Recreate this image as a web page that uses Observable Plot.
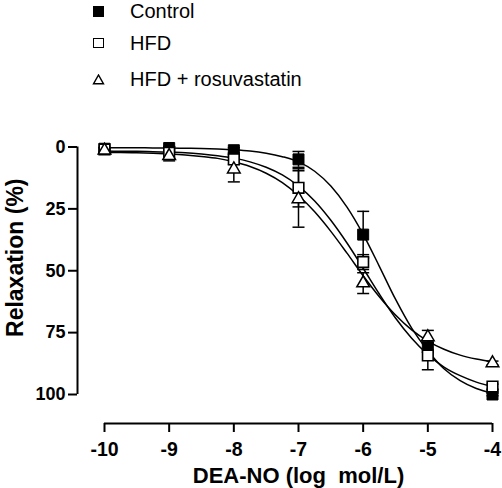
<!DOCTYPE html>
<html>
<head>
<meta charset="utf-8">
<script src="https://cdn.jsdelivr.net/npm/d3@7"></script>
<script src="https://cdn.jsdelivr.net/npm/@observablehq/plot@0.6"></script>
<style>
  html, body { margin: 0; padding: 0; background: #fff; }
  #wrap { width: 502px; height: 488px; position: relative; font-family: "Liberation Sans", Arial, sans-serif; }
  #legend { position: relative; height: 100px; width: 502px; }
  .row { position: absolute; left: 0; height: 20px; line-height: 20px; font-size: 20px; color: #000; }
  .sym { position: absolute; box-sizing: border-box; display: block; }
  .lab { position: absolute; left: 130px; top: 0; white-space: nowrap; }
</style>
</head>
<body>
<div id="wrap">
  <div id="legend"></div>
  <div id="chart"></div>
</div>
<script>
// ---- data ----
const logConc = [-10, -9, -8, -7, -6, -5, -4];
const controlMean = [0.7, 0.4, 1.3, 5.0, 35.4, 81.0, 100.0];
const controlErr  = [0.5, 0.5, 1.0, 3.2, 9.4, 2.0, 0.5];
const hfdMean     = [1.0, 2.3, 5.0, 16.5, 46.5, 84.2, 96.8];
const hfdErr      = [0.8, 2.5, 2.0, 7.7, 3.0, 5.8, 1.0];
const rosuMean    = [1.4, 3.6, 9.0, 21.0, 55.0, 76.8, 87.3];
const rosuErr     = [0.8, 2.0, 5.1, 11.4, 4.2, 2.7, 0.8];

// fitted curves, read at quarter-log steps
const fitX = [-10, -9.75, -9.5, -9.25, -9, -8.75, -8.5, -8.25, -8, -7.75, -7.5, -7.25, -7,
              -6.75, -6.5, -6.25, -6, -5.75, -5.5, -5.25, -5, -4.75, -4.5, -4.25, -4];
const controlFit = [0.3, 0.3, 0.3, 0.4, 0.4, 0.5, 0.6, 0.8, 1.1, 1.6, 2.5, 3.9, 6.0,
                    9.8, 15.8, 24.3, 35.3, 48.2, 61.5, 73.2, 82.3, 89.6, 94.4, 97.6, 99.5];
const hfdFit = [1.6, 1.7, 1.7, 1.9, 2.1, 2.3, 2.8, 3.5, 4.5, 6.0, 8.2, 11.3, 15.8,
                21.8, 29.6, 38.8, 49.0, 59.4, 69.1, 77.3, 83.9, 88.9, 92.4, 95.0, 96.9];
const rosuFit = [2.2, 2.2, 2.3, 2.5, 2.8, 3.2, 3.8, 4.6, 6.0, 7.9, 10.6, 14.4, 19.6,
                 26.2, 34.1, 42.9, 52.0, 60.5, 67.9, 73.9, 78.4, 81.7, 84.1, 85.7, 86.8];

const seriesNames = ["Control", "HFD", "HFD + rosuvastatin"];
const xTicks = [-10, -9, -8, -7, -6, -5, -4];
const xTickLabels = ["-10", "-9", "-8", "-7", "-6", "-5", "-4"];
const yTicks = [0, 25, 50, 75, 100];
const yTickLabels = ["0", "25", "50", "75", "100"];
const xTitle = "DEA-NO (log\u00a0 mol/L)";
const yTitle = "Relaxation (%)";

// ---- build tables ----
const means = [controlMean, hfdMean, rosuMean];
const errs = [controlErr, hfdErr, rosuErr];
const fits = [controlFit, hfdFit, rosuFit];
const points = [];
seriesNames.forEach((s, k) => logConc.forEach((x, i) =>
  points.push({series: s, x, y: means[k][i], lo: means[k][i] - errs[k][i], hi: means[k][i] + errs[k][i]})));
const curves = [];
seriesNames.forEach((s, k) => fitX.forEach((x, i) => curves.push({series: s, x, y: fits[k][i]})));

const cap = { draw(ctx, size) { const w = Math.sqrt(size / Math.PI); ctx.moveTo(-w, 0); ctx.lineTo(w, 0); } };
const of = s => points.filter(d => d.series === s);

const font = "'Liberation Sans', Arial, sans-serif";

const chart = Plot.plot({
  width: 502,
  height: 388,
  marginTop: 46.5,
  marginBottom: 94,
  marginLeft: 104,
  marginRight: 10,
  style: {fontFamily: font, color: "#000", background: "#fff", overflow: "visible"},
  x: {domain: [-10, -4], axis: null},
  y: {domain: [0, 100], reverse: true, axis: null},
  marks: [
    // axes
    Plot.ruleX([-10], {y1: 0, y2: 100, dx: -27, strokeWidth: 2, stroke: "#000"}),
    Plot.ruleY([100], {x1: -10, x2: -4, dy: 29, strokeWidth: 2, stroke: "#000"}),
    Plot.axisY(yTicks, {anchor: "left", dx: -27, tickSize: 9, tickPadding: 3, strokeWidth: 2,
      fontSize: 18, fontWeight: "bold", tickFormat: (d, i) => yTickLabels[i], label: null}),
    Plot.axisX(xTicks, {anchor: "bottom", dy: 29, tickSize: 9, tickPadding: 10, strokeWidth: 2,
      fontSize: 19.5, fontWeight: "bold", tickFormat: (d, i) => xTickLabels[i], label: null}),
    Plot.text([xTitle], {frameAnchor: "bottom", lineAnchor: "middle", dy: 81, fontSize: 22, fontWeight: "bold"}),
    Plot.text([yTitle], {frameAnchor: "left", textAnchor: "middle", lineAnchor: "middle", dx: -89, dy: -13,
      rotate: -90, fontSize: 23, fontWeight: "bold"}),
    // fitted curves
    Plot.line(curves, {x: "x", y: "y", z: "series", curve: "monotone-x", stroke: "#000", strokeWidth: 1.5}),
    // error bars
    Plot.ruleX(points, {x: "x", y1: "lo", y2: "hi", stroke: "#000", strokeWidth: 1.5}),
    Plot.dot(points, {x: "x", y: "lo", symbol: cap, r: 6, stroke: "#000", strokeWidth: 1.5}),
    Plot.dot(points, {x: "x", y: "hi", symbol: cap, r: 6, stroke: "#000", strokeWidth: 1.5}),
    // markers
    Plot.dot(of("Control"), {x: "x", y: "y", symbol: "square", r: 6.2, fill: "#000", stroke: "#000", strokeWidth: 1}),
    Plot.dot(of("HFD"), {x: "x", y: "y", symbol: "square", r: 6.0, fill: "#fff", stroke: "#000", strokeWidth: 1.6}),
    Plot.dot(of("HFD + rosuvastatin"), {x: "x", y: "y", symbol: "triangle", r: 4.7, fill: "#fff", stroke: "#000", strokeWidth: 1.5})
  ]
});
document.getElementById("chart").appendChild(chart);

// ---- legend ----
const legendRows = [
  {name: seriesNames[0], center: 11, kind: "filled"},
  {name: seriesNames[1], center: 42.5, kind: "open"},
  {name: seriesNames[2], center: 79, kind: "tri"}
];
const legend = document.getElementById("legend");
legendRows.forEach(r => {
  const row = document.createElement("div");
  row.className = "row";
  row.style.top = (r.center - 10) + "px";
  let sym;
  if (r.kind === "tri") {
    sym = document.createElementNS("http://www.w3.org/2000/svg", "svg");
    sym.setAttribute("width", "13");
    sym.setAttribute("height", "11");
    sym.style.position = "absolute";
    sym.style.left = "92px";
    sym.style.top = "4.5px";
    const poly = document.createElementNS("http://www.w3.org/2000/svg", "polygon");
    poly.setAttribute("points", "1.5,9.8 6.5,1 11.5,9.8");
    poly.setAttribute("fill", "none");
    poly.setAttribute("stroke", "#000");
    poly.setAttribute("stroke-width", "1.4");
    sym.appendChild(poly);
  } else {
    sym = document.createElement("span");
    sym.className = "sym";
    sym.style.left = "92.5px";
    sym.style.top = "5px";
    sym.style.width = "11px";
    sym.style.height = "10.5px";
    sym.style.border = "1.6px solid #000";
    sym.style.background = r.kind === "filled" ? "#000" : "#fff";
  }
  const lab = document.createElement("span");
  lab.className = "lab";
  lab.textContent = r.name;
  row.appendChild(sym);
  row.appendChild(lab);
  legend.appendChild(row);
});
</script>
</body>
</html>
